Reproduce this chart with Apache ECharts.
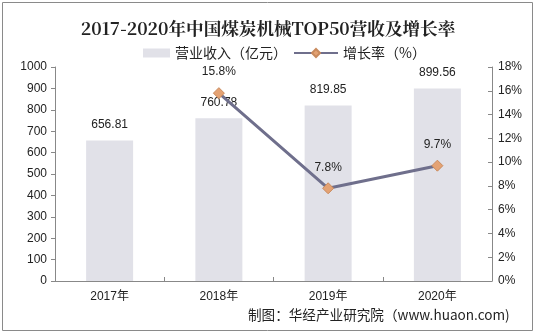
<!DOCTYPE html>
<html><head><meta charset="utf-8">
<script src="https://cdn.jsdelivr.net/npm/echarts@6/dist/echarts.min.js"></script>
<style>html,body{margin:0;padding:0;background:#fff}#c{width:536px;height:335px}</style>
</head><body><div id="c"></div>
<script>
const categories = ['2017年','2018年','2019年','2020年'];
const revenue = [656.81, 760.78, 819.85, 899.56];
const growth = [null, 15.8, 7.8, 9.7];
const leftTicks = [0, 1000, 100];
const rightTicks = [0, 18, 2];

const numFont = '"Liberation Sans", Arial, sans-serif';
const chart = echarts.init(document.getElementById('c'));
chart.setOption({
  backgroundColor: '#fff',
  animation: false,
  graphic: [
    {type:'rect', shape:{x:2.5,y:2.5,width:530,height:328}, style:{fill:'none', stroke:'#8a8a8a', lineWidth:1}},
    {type:'text', left: 248, top: 308, style:{text:'制图：华经产业研究院（www.huaon.com)', font:'13.6px "Noto Sans CJK SC", sans-serif', fill:'#222'}}
  ],
  title: {
    text: '2017-2020年中国煤炭机械TOP50营收及增长率',
    left: 'center', top: 15,
    textStyle: {fontFamily: '"Noto Serif CJK SC", "DejaVu Serif", serif', fontSize: 17.6, fontWeight: 'bold', color: '#222'}
  },
  legend: [
    {top: 41, left: 138, itemWidth: 27, itemHeight: 9,
     textStyle: {fontFamily: '"Noto Sans CJK SC", sans-serif', fontSize: 14, color: '#222'},
     data: [{name: '营业收入（亿元）', icon: 'rect'}]},
    {top: 41, left: 288, itemWidth: 44, itemHeight: 10,
     textStyle: {fontFamily: '"Noto Sans CJK SC", sans-serif', fontSize: 14, color: '#222'},
     data: [{name: '增长率（%）'}]}
  ],
  grid: {left: 55, right: 44, top: 67, bottom: 54},
  xAxis: {
    type: 'category', data: categories,
    axisLine: {lineStyle: {color: '#888'}},
    axisTick: {show: true, inside: true, length: 4, lineStyle: {color: '#888'}},
    axisLabel: {fontFamily: numFont + ', "Noto Sans CJK SC"', fontSize: 12, color: '#222', margin: 10}
  },
  yAxis: [
    {type: 'value', min: leftTicks[0], max: leftTicks[1], interval: leftTicks[2],
     axisLine: {show: true, lineStyle: {color: '#888'}},
     axisTick: {show: true, length: 4, lineStyle: {color: '#888'}},
     splitLine: {show: false},
     axisLabel: {formatter: v => String(v), fontFamily: numFont, fontSize: 12, color: '#222', margin: 8}},
    {type: 'value', min: rightTicks[0], max: rightTicks[1], interval: rightTicks[2], position: 'right',
     axisLine: {show: true, lineStyle: {color: '#888'}},
     axisTick: {show: true, inside: true, length: 4, lineStyle: {color: '#888'}},
     splitLine: {show: false},
     axisLabel: {formatter: '{value}%', fontFamily: numFont, fontSize: 12, color: '#222', margin: 6}}
  ],
  series: [
    {name: '营业收入（亿元）', type: 'bar', data: revenue, barWidth: 47,
     itemStyle: {color: '#e1e1e8'},
     label: {show: true, position: 'top', distance: 10, fontFamily: numFont, fontSize: 12, color: '#222',
       formatter: p => p.value.toFixed(2)}},
    {name: '增长率（%）', type: 'line', yAxisIndex: 1, data: growth,
     symbol: 'diamond', symbolSize: 11,
     lineStyle: {color: '#6f6f8c', width: 3},
     itemStyle: {color: '#e4a273', borderColor: '#c98a5d', borderWidth: 1},
     label: {show: true, position: 'top', distance: 9, fontFamily: numFont, fontSize: 12, color: '#222',
       formatter: p => p.value.toFixed(1) + '%'}}
  ]
});
</script></body></html>
